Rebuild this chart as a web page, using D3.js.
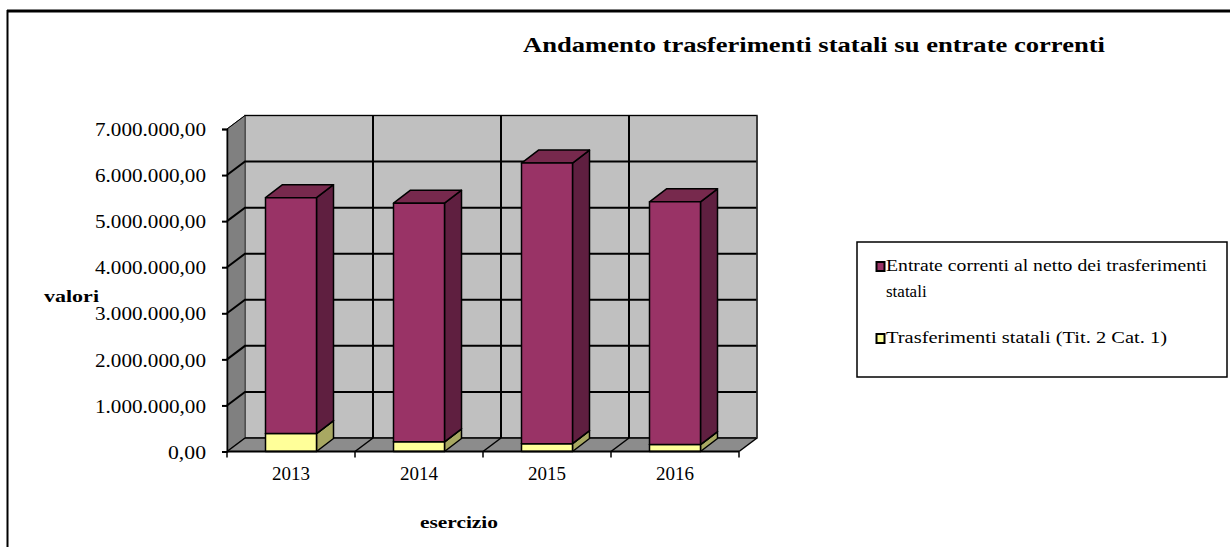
<!DOCTYPE html>
<html>
<head>
<meta charset="utf-8">
<script src="https://cdn.jsdelivr.net/npm/d3@7"></script>
<style>
  html, body { margin: 0; padding: 0; background: #fff; }
  svg { display: block; font-family: "Liberation Serif", "Times New Roman", serif; }
</style>
</head>
<body>
<svg id="chart" width="1230" height="547"></svg>
<script>
// Categories and series (euro)
const years = ["2013", "2014", "2015", "2016"];
const trasferimentiStatali = [390000, 210000, 170000, 150000];
const entrateNette = [5120000, 5180000, 6090000, 5270000];
const yTicks = [0, 1000000, 2000000, 3000000, 4000000, 5000000, 6000000, 7000000];

const svg = d3.select("#chart");

// Italian number format: 7.000.000,00
const it = d3.formatLocale({ decimal: ",", thousands: ".", grouping: [3], currency: ["", " €"] });
const fmt = it.format(",.2f");

// Plot geometry (front plane) and 3D depth offset
const x = d3.scaleBand().domain(years).range([227, 739]).paddingInner(0).paddingOuter(0);
const y = d3.scaleLinear().domain([0, 7000000]).range([451.5, 129]);
const DX = 18, DY = 13.5;
const x0 = x.range()[0], x1 = x.range()[1];
const yBot = y(0), yTop = y(7000000);

// outer frame
svg.append("line").attr("x1", 7).attr("y1", 11).attr("x2", 1230).attr("y2", 11)
  .attr("stroke", "#000").attr("stroke-width", 3);
svg.append("line").attr("x1", 7.5).attr("y1", 10).attr("x2", 7.5).attr("y2", 547)
  .attr("stroke", "#000").attr("stroke-width", 2);

// title
svg.append("text").attr("x", 814).attr("y", 52).attr("text-anchor", "middle")
  .attr("font-size", 20.5).attr("font-weight", "bold")
  .attr("textLength", 582).attr("lengthAdjust", "spacingAndGlyphs")
  .text("Andamento trasferimenti statali su entrate correnti");

const pts = p => p.map(d => d.join(",")).join(" ");

// back wall
svg.append("rect").attr("x", x0 + DX).attr("y", yTop - DY)
  .attr("width", x1 - x0).attr("height", yBot - yTop)
  .attr("fill", "#c0c0c0").attr("stroke", "#404040").attr("stroke-width", 1.5);

// side wall
svg.append("polygon")
  .attr("points", pts([[x0, yBot], [x0, yTop], [x0 + DX, yTop - DY], [x0 + DX, yBot - DY]]))
  .attr("fill", "#808080").attr("stroke", "#404040").attr("stroke-width", 1);

// floor
svg.append("polygon")
  .attr("points", pts([[x0, yBot], [x1, yBot], [x1 + DX, yBot - DY], [x0 + DX, yBot - DY]]))
  .attr("fill", "#8c8c8c").attr("stroke", "none");

// vertical gridlines on back wall
const bounds = years.map(d => x(d)).concat([x1]);
svg.append("g").selectAll("line").data(bounds.slice(1, -1)).join("line")
  .attr("x1", d => d + DX).attr("x2", d => d + DX)
  .attr("y1", yTop - DY).attr("y2", yBot - DY)
  .attr("stroke", "#000").attr("stroke-width", 2);

// floor diagonal lines
svg.append("g").selectAll("line").data(bounds).join("line")
  .attr("x1", d => d).attr("y1", yBot).attr("x2", d => d + DX).attr("y2", yBot - DY)
  .attr("stroke", "#000").attr("stroke-width", 1.5);

// horizontal gridlines: side wall diagonal + back wall
const grid = svg.append("g");
yTicks.forEach(v => {
  const yy = y(v);
  if (v > 0) {
    grid.append("polyline")
      .attr("points", pts([[x0, yy], [x0 + DX, yy - DY], [x1 + DX, yy - DY]]))
      .attr("fill", "none").attr("stroke", "#000").attr("stroke-width", v === 7000000 ? 1 : 2);
  } else {
    grid.append("line").attr("x1", x0 + DX).attr("x2", x1 + DX)
      .attr("y1", yy - DY).attr("y2", yy - DY)
      .attr("stroke", "#000").attr("stroke-width", 1.5);
  }
});
// back wall right edge
svg.append("line").attr("x1", x1 + DX).attr("x2", x1 + DX).attr("y1", yTop - DY).attr("y2", yBot - DY)
  .attr("stroke", "#303030").attr("stroke-width", 1.5);

// stacked 3D bars
const barW = 51, bDX = 17, bDY = 13;
const stackSeries = [
  { values: trasferimentiStatali, front: "#ffff99", side: "#a8a862", top: "#cccc7a" },
  { values: entrateNette, front: "#993366", side: "#5f1f40", top: "#77294d" }
];
const bars = svg.append("g");
years.forEach((yr, i) => {
  const cx = x(yr) + x.bandwidth() / 2;
  const bx0 = cx - barW / 2, bx1 = cx + barW / 2;
  let base = 0;
  stackSeries.forEach(s => {
    const v = s.values[i];
    const yb = y(base), yt = y(base + v);
    const g = bars.append("g").attr("stroke", "#000").attr("stroke-width", 1.5).attr("stroke-linejoin", "round");
    g.append("polygon").attr("points", pts([[bx1, yb], [bx1 + bDX, yb - bDY], [bx1 + bDX, yt - bDY], [bx1, yt]]))
      .attr("fill", s.side);
    g.append("polygon").attr("points", pts([[bx0, yt], [bx1, yt], [bx1 + bDX, yt - bDY], [bx0 + bDX, yt - bDY]]))
      .attr("fill", s.top);
    g.append("rect").attr("x", bx0).attr("y", yt).attr("width", barW).attr("height", yb - yt)
      .attr("fill", s.front);
    base += v;
  });
});

// front floor edge (category axis)
svg.append("line").attr("x1", x0).attr("x2", x1).attr("y1", yBot).attr("y2", yBot)
  .attr("stroke", "#000").attr("stroke-width", 2);

// value axis
const yAxis = svg.append("g").attr("transform", `translate(${x0},0)`)
  .call(d3.axisLeft(y).tickValues(yTicks).tickSize(5).tickFormat(fmt));
yAxis.select(".domain").attr("stroke", "#000").attr("stroke-width", 1.5);
yAxis.selectAll(".tick line").attr("stroke", "#000").attr("stroke-width", 2);
yAxis.selectAll(".tick text")
  .attr("x", -21).attr("dy", "0.35em")
  .attr("font-family", "Liberation Serif, Times New Roman, serif")
  .attr("font-size", 19).attr("fill", "#000")
  .attr("textLength", d => d === 0 ? 38 : 111).attr("lengthAdjust", "spacingAndGlyphs");

// category axis
const xAxis = svg.append("g").attr("transform", `translate(0,${yBot})`)
  .call(d3.axisBottom(x).tickSize(0).tickFormat(d => d));
xAxis.select(".domain").remove();
xAxis.selectAll(".tick text")
  .attr("y", 22).attr("dy", "0.35em")
  .attr("font-family", "Liberation Serif, Times New Roman, serif")
  .attr("font-size", 19).attr("fill", "#000");
svg.append("g").selectAll("line").data(bounds).join("line")
  .attr("x1", d => d).attr("x2", d => d).attr("y1", yBot).attr("y2", yBot + 6)
  .attr("stroke", "#000").attr("stroke-width", 1.5);

// axis titles
svg.append("text").attr("x", 44).attr("y", 302)
  .attr("font-size", 17).attr("font-weight", "bold")
  .attr("textLength", 55).attr("lengthAdjust", "spacingAndGlyphs").text("valori");
svg.append("text").attr("x", 420).attr("y", 528)
  .attr("font-size", 17).attr("font-weight", "bold")
  .attr("textLength", 78).attr("lengthAdjust", "spacingAndGlyphs").text("esercizio");

// legend
const lg = svg.append("g");
lg.append("rect").attr("x", 857).attr("y", 242).attr("width", 370).attr("height", 135)
  .attr("fill", "#fff").attr("stroke", "#000").attr("stroke-width", 1.5);
const legendItems = [
  { color: "#993366", lines: ["Entrate correnti al netto dei trasferimenti", "statali"], y: 271 },
  { color: "#ffff99", lines: ["Trasferimenti statali (Tit. 2 Cat. 1)"], y: 343 }
];
legendItems.forEach((item, k) => {
  lg.append("rect").attr("x", 876.5).attr("y", item.y - 9).attr("width", 8).attr("height", 9)
    .attr("fill", item.color).attr("stroke", "#000").attr("stroke-width", 2);
  item.lines.forEach((ln, j) => {
    const t = lg.append("text").attr("x", 886).attr("y", item.y + j * 26)
      .attr("font-size", 17).text(ln);
    if (k === 0 && j === 0) t.attr("textLength", 321).attr("lengthAdjust", "spacingAndGlyphs");
    if (k === 1) t.attr("textLength", 281).attr("lengthAdjust", "spacingAndGlyphs");
  });
});
</script>
</body>
</html>
